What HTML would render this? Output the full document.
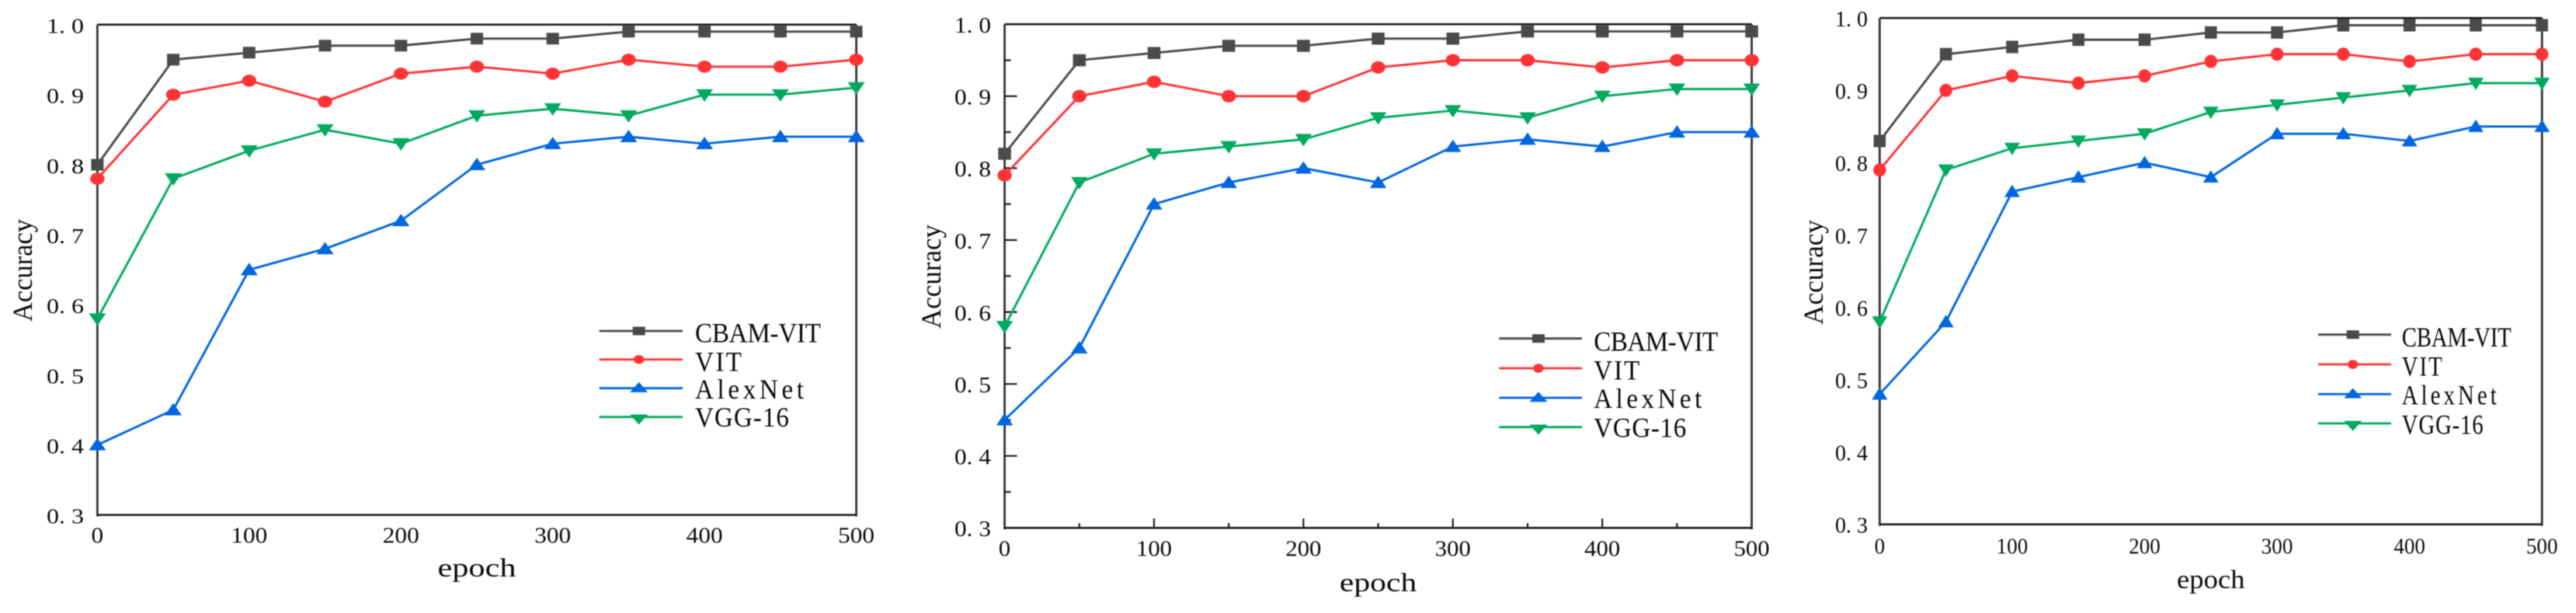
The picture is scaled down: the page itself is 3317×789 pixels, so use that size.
<!DOCTYPE html>
<html lang="en">
<head>
<meta charset="utf-8">
<title>Accuracy vs epoch comparison charts</title>
<style>
  html, body { margin: 0; padding: 0; background: #fff; }
  svg { display: block; filter: blur(0.4px); }
  text { font-family: "Liberation Serif", "Noto Serif CJK SC", serif; fill: #0a0a0a; }
</style>
</head>
<body>
<svg id="figure" xmlns="http://www.w3.org/2000/svg" width="3317" height="789" viewBox="0 0 3317 789"></svg>
<script>
const epochs = [0, 50, 100, 150, 200, 250, 300, 350, 400, 450, 500];
const seriesNames = ['CBAM-VIT', 'VIT', 'AlexNet', 'VGG-16'];
const xTicks = [0, 100, 200, 300, 400, 500];
const xTickLabels = ['0', '100', '200', '300', '400', '500'];
const xMinorTicks = [50, 150, 250, 350, 450];
const yTicks = [1.0, 0.9, 0.8, 0.7, 0.6, 0.5, 0.4, 0.3];
const yTickLabels = ['1. 0', '0. 9', '0. 8', '0. 7', '0. 6', '0. 5', '0. 4', '0. 3'];
const yMinorTicks = [0.95, 0.85, 0.75, 0.65, 0.55, 0.45, 0.35];

const chart1Cbam = [0.80, 0.95, 0.96, 0.97, 0.97, 0.98, 0.98, 0.99, 0.99, 0.99, 0.99];
const chart1Vit = [0.78, 0.90, 0.92, 0.89, 0.93, 0.94, 0.93, 0.95, 0.94, 0.94, 0.95];
const chart1Alex = [0.40, 0.45, 0.65, 0.68, 0.72, 0.80, 0.83, 0.84, 0.83, 0.84, 0.84];
const chart1Vgg = [0.58, 0.78, 0.82, 0.85, 0.83, 0.87, 0.88, 0.87, 0.90, 0.90, 0.91];

const chart2Cbam = [0.82, 0.95, 0.96, 0.97, 0.97, 0.98, 0.98, 0.99, 0.99, 0.99, 0.99];
const chart2Vit = [0.79, 0.90, 0.92, 0.90, 0.90, 0.94, 0.95, 0.95, 0.94, 0.95, 0.95];
const chart2Alex = [0.45, 0.55, 0.75, 0.78, 0.80, 0.78, 0.83, 0.84, 0.83, 0.85, 0.85];
const chart2Vgg = [0.58, 0.78, 0.82, 0.83, 0.84, 0.87, 0.88, 0.87, 0.90, 0.91, 0.91];

const chart3Cbam = [0.83, 0.95, 0.96, 0.97, 0.97, 0.98, 0.98, 0.99, 0.99, 0.99, 0.99];
const chart3Vit = [0.79, 0.90, 0.92, 0.91, 0.92, 0.94, 0.95, 0.95, 0.94, 0.95, 0.95];
const chart3Alex = [0.48, 0.58, 0.76, 0.78, 0.80, 0.78, 0.84, 0.84, 0.83, 0.85, 0.85];
const chart3Vgg = [0.58, 0.79, 0.82, 0.83, 0.84, 0.87, 0.88, 0.89, 0.90, 0.91, 0.91];

const seriesStyles = [
  { key: 'cbam-vit', color: '#4a4a4a', marker: 'square' },
  { key: 'vit', color: '#ff3336', marker: 'circle' },
  { key: 'alexnet', color: '#0066e0', marker: 'up' },
  { key: 'vgg-16', color: '#00a95f', marker: 'down' }
];

const chartLayouts = [
  {
    id: 'chart-1', series: [chart1Cbam, chart1Vit, chart1Alex, chart1Vgg],
    left: 125.4, right: 1102.6, top: 31.7, bottom: 662.8, showTicks: false,
    yLabelRight: 108, yLabelWidth: 48, yFont: 27, yLabelDrop: 10.8,
    xLabelBase: 698.3, xLabelWidth: 47, xFont: 28,
    epochBase: 742, epochWidth: 101,
    accBaseX: 41, accTop: 282, accLen: 132,
    sq: [16, 15], circ: [18.5, 15.5], tri: [22, 16],
    legend: { x0: 771.7, x1: 879, mx: 822.7, tx: 895, sx: 0.92,
      ly: [426, 462.7, 499.7, 536.7], by: [440.7, 477.3, 513, 549], w: [162, 60, 140, 121] }
  },
  {
    id: 'chart-2', series: [chart2Cbam, chart2Vit, chart2Alex, chart2Vgg],
    left: 1293.6, right: 2255.6, top: 31.2, bottom: 679.4, showTicks: true,
    yLabelRight: 1276, yLabelWidth: 47, yFont: 28, yLabelDrop: 10.8,
    xLabelBase: 715.7, xLabelWidth: 46, xFont: 28.5,
    epochBase: 761, epochWidth: 99.5,
    accBaseX: 1211, accTop: 289, accLen: 134,
    sq: [16.5, 15.5], circ: [18.5, 16], tri: [21.5, 16],
    legend: { x0: 1930.3, x1: 2037, mx: 1981, tx: 2052.3, sx: 0.92,
      ly: [435.7, 474, 512, 549.7], by: [451.7, 488.3, 525, 562.7], w: [160, 59, 139, 119] }
  },
  {
    id: 'chart-3', series: [chart3Cbam, chart3Vit, chart3Alex, chart3Vgg],
    left: 2420.4, right: 3273.2, top: 23.2, bottom: 674.9, showTicks: false,
    yLabelRight: 2405, yLabelWidth: 42, yFont: 29, yLabelDrop: 10.8,
    xLabelBase: 712.3, xLabelWidth: 40.6, xFont: 29,
    epochBase: 757, epochWidth: 87.5,
    accBaseX: 2347, accTop: 283, accLen: 135,
    sq: [15.5, 16], circ: [16.5, 17], tri: [20, 16],
    legend: { x0: 2985, x1: 3079, mx: 3029.7, tx: 3092.7, sx: 0.8,
      ly: [430.7, 469, 507.3, 545], by: [446, 483.3, 520.7, 558.3], w: [141, 52, 122, 105] }
  }
];

const SVG_NS = 'http://www.w3.org/2000/svg';
const figure = document.getElementById('figure');

function make(tag, attrs, parent) {
  const node = document.createElementNS(SVG_NS, tag);
  for (const k in attrs) node.setAttribute(k, attrs[k]);
  parent.appendChild(node);
  return node;
}

function markerNode(kind, cx, cy, w, h, color, parent) {
  if (kind === 'square') {
    return make('rect', { x: cx - w / 2, y: cy - h / 2, width: w, height: h, fill: color }, parent);
  }
  if (kind === 'circle') {
    return make('ellipse', { cx: cx, cy: cy, rx: w / 2, ry: h / 2, fill: color }, parent);
  }
  const sign = kind === 'up' ? 1 : -1;
  const apex = cy - sign * h * 0.56;
  const base = cy + sign * h * 0.44;
  const pts = [cx, apex, cx - w / 2, base, cx + w / 2, base].join(' ');
  return make('polygon', { points: pts, fill: color }, parent);
}

function drawChart(cfg) {
  const xScale = function (v) { return cfg.left + (v / 500) * (cfg.right - cfg.left); };
  const yScale = function (v) { return cfg.bottom - ((v - 0.3) / 0.7) * (cfg.bottom - cfg.top); };
  let el;

  const g = make('g', {}, figure);
  
  

  const frame = make('g', { stroke: '#1c1c1c', fill: 'none' }, g);
  
  

  el = make('line', { x1: cfg.left, x2: cfg.right, y1: cfg.top, y2: cfg.top, 'stroke-width': 2.6 }, frame);
  
  
  el = make('line', { x1: cfg.right, x2: cfg.right, y1: cfg.top, y2: cfg.bottom + 2, 'stroke-width': 2.8, stroke: '#333' }, frame);
  
  
  el = make('line', { x1: cfg.left, x2: cfg.left, y1: cfg.top, y2: cfg.bottom + 2, 'stroke-width': 2.8, stroke: '#333' }, frame);
  
  
  el = make('line', { x1: cfg.left, x2: cfg.right, y1: cfg.bottom, y2: cfg.bottom, 'stroke-width': 2.6 }, frame);
  
  

  if (cfg.showTicks) {
    yTicks.forEach(function (v) {
      if (v === 1.0 || v === 0.3) return;
      const t = make('line', { x1: cfg.left, x2: cfg.left + 16, y1: yScale(v), y2: yScale(v), 'stroke-width': 2.2 }, frame);
      
      
    });
    yMinorTicks.forEach(function (v) {
      const t = make('line', { x1: cfg.left, x2: cfg.left + 8, y1: yScale(v), y2: yScale(v), 'stroke-width': 2.2 }, frame);
      
      
    });
    xTicks.forEach(function (v) {
      if (v === 0 || v === 500) return;
      const t = make('line', { x1: xScale(v), x2: xScale(v), y1: cfg.bottom, y2: cfg.bottom - 12, 'stroke-width': 2.2 }, frame);
      
      
    });
    xMinorTicks.forEach(function (v) {
      const t = make('line', { x1: xScale(v), x2: xScale(v), y1: cfg.bottom, y2: cfg.bottom - 6, 'stroke-width': 2.2 }, frame);
      
      
    });
  }

  yTicks.forEach(function (v, i) {
    const t = make('text', {
      x: cfg.yLabelRight - cfg.yLabelWidth,
      y: yScale(v) + cfg.yLabelDrop,
      'font-size': cfg.yFont,
      textLength: cfg.yLabelWidth,
      lengthAdjust: 'spacingAndGlyphs'
    }, g);
    t.setAttribute('xml:space', 'preserve');
    t.style.whiteSpace = 'pre';
    t.textContent = yTickLabels[i];
    
    
  });

  xTicks.forEach(function (v, i) {
    const label = xTickLabels[i];
    const w = cfg.xLabelWidth * label.length / 3;
    const t = make('text', {
      x: xScale(v) - w / 2,
      y: cfg.xLabelBase,
      'font-size': cfg.xFont,
      textLength: w,
      lengthAdjust: 'spacingAndGlyphs'
    }, g);
    t.textContent = label;
    
    
  });

  const epochLabel = make('text', {
    x: (cfg.left + cfg.right) / 2 - cfg.epochWidth / 2,
    y: cfg.epochBase,
    'font-size': 34,
    textLength: cfg.epochWidth,
    lengthAdjust: 'spacingAndGlyphs'
  }, g);
  epochLabel.textContent = 'epoch';
  
  

  const accLabel = make('text', {
    transform: 'translate(' + cfg.accBaseX + ' ' + (cfg.accTop + cfg.accLen) + ') rotate(-90)',
    x: 0, y: 0,
    'font-size': 36,
    textLength: cfg.accLen,
    lengthAdjust: 'spacingAndGlyphs'
  }, g);
  accLabel.textContent = 'Accuracy';
  
  

  cfg.series.forEach(function (values, si) {
    const style = seriesStyles[si];
    const sg = make('g', {}, g);
    
    

    const pts = values.map(function (v, i) { return xScale(epochs[i]) + ',' + yScale(v); }).join(' ');
    const line = make('polyline', { points: pts, fill: 'none', stroke: style.color, 'stroke-width': 2.9 }, sg);
    
    

    const size = style.marker === 'square' ? cfg.sq : (style.marker === 'circle' ? cfg.circ : cfg.tri);
    values.forEach(function (v, i) {
      const m = markerNode(style.marker, xScale(epochs[i]), yScale(v), size[0], size[1], style.color, sg);
      
      
    });
  });

  const lg = cfg.legend;
  const legendGroup = make('g', {}, g);
  
  

  seriesNames.forEach(function (name, i) {
    const style = seriesStyles[i];
    const entry = make('g', {}, legendGroup);
    
    

    const ln = make('line', { x1: lg.x0, x2: lg.x1, y1: lg.ly[i], y2: lg.ly[i], stroke: style.color, 'stroke-width': 2.8 }, entry);
    
    

    const legendSizes = { square: [16, 11], circle: [13.5, 11.5], up: [23, 13], down: [23, 13] };
    const sz = legendSizes[style.marker];
    const offset = style.marker === 'up' ? -0.5 : (style.marker === 'down' ? 2.5 : 0);
    const mk = markerNode(style.marker, lg.mx, lg.ly[i] + offset, sz[0], sz[1], style.color, entry);
    
    

    const txt = make('text', {
      transform: 'translate(' + lg.tx + ' ' + lg.by[i] + ') scale(' + lg.sx + ' 1)',
      x: 0, y: 0,
      'font-size': 36,
      textLength: lg.w[i] / lg.sx,
      lengthAdjust: 'spacing'
    }, entry);
    txt.textContent = name;
    
    
  });
}

chartLayouts.forEach(drawChart);
</script>
</body>
</html>
